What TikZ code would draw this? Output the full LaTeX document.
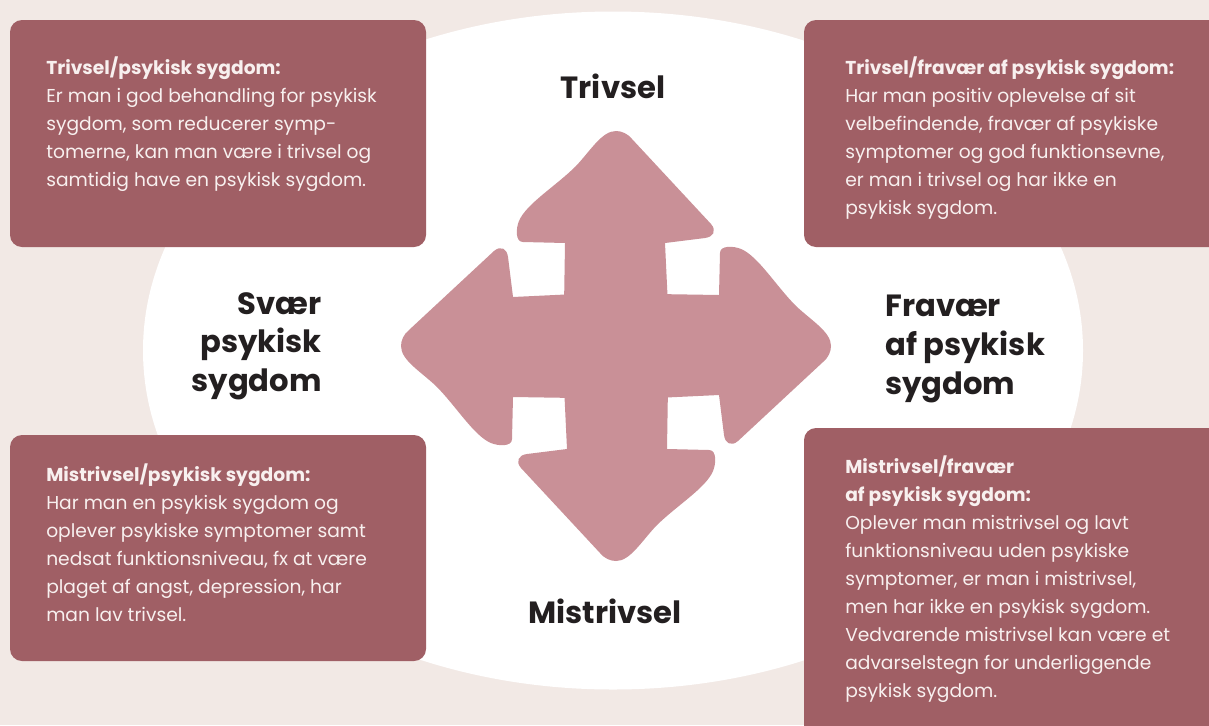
\documentclass[tikz,border=0pt]{standalone}
\usepackage{fontspec}
\setmainfont{Poppins}

\begin{document}
\begin{tikzpicture}[x=0.75pt,y=-0.75pt,
  boxtext/.style={anchor=north west, inner sep=0pt, align=left, text=paleTXT,
    font=\fontsize{14}{21}\selectfont},
  bigtext/.style={inner sep=0pt, text=darkTXT, font=\bfseries\fontsize{23}{29}\selectfont}]

\definecolor{sandBG}{HTML}{f2e9e5}
\definecolor{roseBOX}{HTML}{a05f65}
\definecolor{pinkARW}{HTML}{c99097}
\definecolor{paleTXT}{HTML}{f8f0ef}
\definecolor{darkTXT}{HTML}{231f20}

\clip (0,0) rectangle (1209,725);
\fill[sandBG] (0,0) rectangle (1209,725);
\fill[white] (613,350.5) ellipse [x radius=470, y radius=339];

% the four boxes
\fill[roseBOX, rounded corners=9pt] (10,20) rectangle (426,247);
\fill[roseBOX, rounded corners=9pt] (804,20) rectangle (1230,247);
\fill[roseBOX, rounded corners=9pt] (10,435) rectangle (426,661);
\fill[roseBOX, rounded corners=9pt] (804,428) rectangle (1230,745);

% arrow cross
\fill[pinkARW] (564,294) rectangle (668,398);
\foreach \a in {0,90,180,270} {
 \fill[pinkARW, shift={(616,346)}, rotate=\a]
  (-52,-40) -- (-51,-103) -- (-93,-104)
  .. controls (-101,-104) and (-100,-118) .. (-97,-125)
  .. controls (-90,-142) and (-60,-160) .. (-40,-180)
  .. controls (-25,-196) and (-14,-215) .. (0,-215)
  .. controls (6,-215) and (12,-212) .. (16,-207)
  -- (95,-122)
  .. controls (101,-115) and (97,-109) .. (89,-108)
  -- (49,-103) -- (52,-40) -- cycle;
}

\node[boxtext] (tlText) at (46,56) {\textbf{Trivsel/psykisk sygdom:}\\
  Er man i god behandling for psykisk\\
  sygdom, som reducerer symp-\\
  tomerne, kan man være i trivsel og\\
  samtidig have en psykisk sygdom.};
\node[boxtext] (trText) at (845,56) {\textbf{Trivsel/fravær af psykisk sygdom:}\\
  Har man positiv oplevelse af sit\\
  velbefindende, fravær af psykiske\\
  symptomer og god funktionsevne,\\
  er man i trivsel og har ikke en\\
  psykisk sygdom.};
\node[boxtext] (blText) at (46,463) {\textbf{Mistrivsel/psykisk sygdom:}\\
  Har man en psykisk sygdom og\\
  oplever psykiske symptomer samt\\
  nedsat funktionsniveau, fx at være\\
  plaget af angst, depression, har\\
  man lav trivsel.};
\node[boxtext] (brText) at (845,455) {\textbf{Mistrivsel/fravær}\\
  \textbf{af psykisk sygdom:}\\
  Oplever man mistrivsel og lavt\\
  funktionsniveau uden psykiske\\
  symptomer, er man i mistrivsel,\\
  men har ikke en psykisk sygdom.\\
  Vedvarende mistrivsel kan være et\\
  advarselstegn for underliggende\\
  psykisk sygdom.};

\node[bigtext, anchor=base] (topLbl) at (613,98) {Trivsel};
\node[bigtext, anchor=base] (botLbl) at (605,623) {Mistrivsel};
\node[bigtext, align=right, anchor=north east] (leftLbl) at (322,292) {Svær\\psykisk\\sygdom};
\node[bigtext, align=left, anchor=north west] (rightLbl) at (885,295) {Fravær\\af psykisk\\sygdom};
\end{tikzpicture}
\end{document}
